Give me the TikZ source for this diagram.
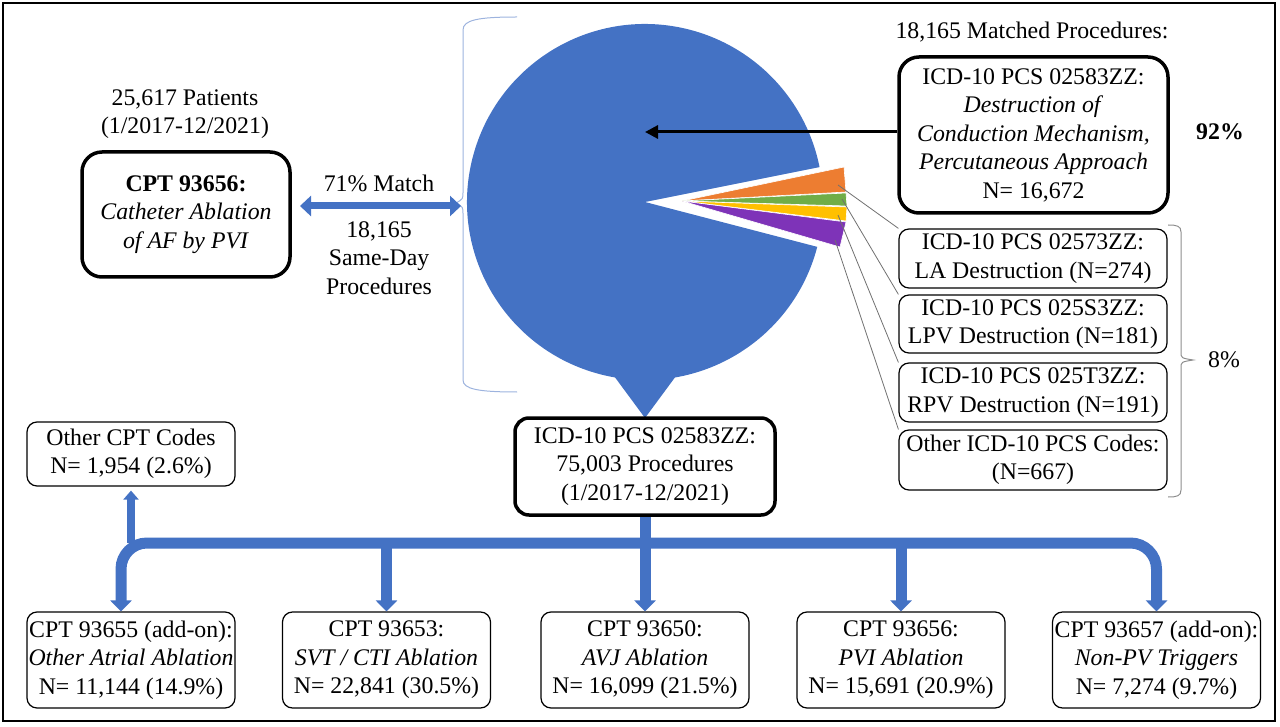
\documentclass[tikz,border=0pt]{standalone}
\usepackage{fontspec}
\setmainfont{Liberation Serif}
\usetikzlibrary{arrows.meta,calc}
\definecolor{pieblue}{HTML}{4472C4}
\definecolor{pieorange}{HTML}{ED7D31}
\definecolor{piegreen}{HTML}{70AD47}
\definecolor{pieyellow}{HTML}{FFC000}
\definecolor{piepurple}{HTML}{7E33B8}
\definecolor{bracecol}{HTML}{9DB3DE}
\definecolor{leadcol}{HTML}{707070}
\newcommand\myfs{\fontsize{23.8}{28.5}\selectfont}
\tikzset{
  txt/.style={font=\myfs, align=center, inner sep=0pt},
  thickbox/.style={draw, line width=3.5pt, rounded corners=20pt, align=center, inner sep=0pt, font=\myfs},
  thinbox/.style={draw, line width=1.2pt, rounded corners=10pt, align=center, inner sep=0pt, font=\myfs},
  bluetip/.style={-{Triangle[length=11pt,width=21pt]}},
  bar/.style={draw=pieblue, line width=11pt},
  leader/.style={draw=leadcol, line width=0.8pt},
}
\begin{document}
\begin{tikzpicture}[x=1pt,y=-1pt]
\useasboundingbox (0,0) rectangle (1280,727);
\draw[line width=2.5pt] (3,3) rectangle (1275,721);

% pie
\fill[pieblue] (645,202) -- ($(645,202)+(14.6:178)$) arc[start angle=14.6, end angle=348.7, radius=178] -- cycle;
\fill[pieblue] (614,376) -- (645,418) -- (676,376) -- cycle;
\begin{scope}[draw=white, line width=0.6pt]
\filldraw[fill=pieorange] (682,201) -- (844,167) -- (846,192) -- cycle;
\filldraw[fill=piegreen] (682,201) -- (846,193) -- (847,206) -- cycle;
\filldraw[fill=pieyellow] (682,201) -- (847,207) -- (846,221) -- cycle;
\filldraw[fill=piepurple] (682,201) -- (846,222) -- (840,247) -- cycle;
\end{scope}
\coordinate (sOrange) at (838,185);
\coordinate (sGreen) at (842,199);
\coordinate (sYellow) at (838,215);
\coordinate (sPurple) at (835,240);
\coordinate (pietip) at (645,132);

% pie brace
\draw[bracecol, line width=1pt] (517,17) .. controls (478,17) and (463,20) .. (463,30) -- (463,192) .. controls (463,199) .. (456,203) .. controls (463,207) .. (463,214) -- (463,380) .. controls (463,389) and (478,392) .. (517,392);

% left
\node[txt] (patients) at (185,114) {25,617 Patients\\(1/2017-12/2021)};
\node[thickbox, minimum width=208pt, minimum height=125pt] (cpt) at (186,214.5)
  {\textbf{CPT 93656:}\\\textit{Catheter Ablation}\\\textit{of AF by PVI}};
\node[txt] (match) at (379,183) {71\% Match};
\node[txt] (sameday) at (379,258) {18,165\\Same-Day\\Procedures};
\coordinate (dl) at (300,206);
\coordinate (dr) at (461,206);
\draw[pieblue, line width=7pt, {Triangle[length=11pt,width=20pt]}-{Triangle[length=11pt,width=20pt]}] (dl) -- (dr);

% right
\node[txt] (matched) at (1032,32) {18,165 Matched Procedures:};
\node[thickbox, minimum width=269pt, minimum height=156pt] (big) at (1033.5,135)
  {ICD-10 PCS 02583ZZ:\\\textit{Destruction of}\\\textit{Conduction Mechanism,}\\\textit{Percutaneous Approach}\\N= 16,672};
\node[txt] (p92) at (1220,132) {\textbf{92\%}};
\draw[line width=3pt, -{Triangle[length=13pt,width=13pt]}] (big.west |- pietip) -- (pietip);

\node[thinbox, minimum width=268pt, minimum height=59pt] (la) at (1033,258.5) {ICD-10 PCS 02573ZZ:\\LA Destruction (N=274)};
\node[thinbox, minimum width=268pt, minimum height=58pt] (lpv) at (1033,324) {ICD-10 PCS 025S3ZZ:\\LPV Destruction (N=181)};
\node[thinbox, minimum width=268pt, minimum height=59pt] (rpv) at (1033,392.5) {ICD-10 PCS 025T3ZZ:\\RPV Destruction (N=191)};
\node[thinbox, minimum width=268pt, minimum height=60pt] (oth) at (1033,460) {Other ICD-10 PCS Codes:\\(N=667)};

\draw[leader] (sOrange) -- (la.north west);
\draw[leader] (sGreen) -- (lpv.north west);
\draw[leader] (sYellow) -- (rpv.north west);
\draw[leader] (sPurple) -- (oth.north west);

\draw[leadcol!80, line width=1pt] (1168,225) .. controls (1177,225) and (1181,226) .. (1181,232) -- (1181,352) .. controls (1181,358) .. (1193,360) .. controls (1181,362) .. (1181,368) -- (1181,490) .. controls (1181,496) and (1177,497) .. (1168,497);
\node[txt] (p8) at (1224,360) {8\%};

% bottom
\node[thickbox, rounded corners=14pt, minimum width=260pt, minimum height=97pt] (center) at (645,466.5)
  {ICD-10 PCS 02583ZZ:\\75,003 Procedures\\(1/2017-12/2021)};
\node[thinbox, minimum width=208pt, minimum height=64pt] (ocpt) at (131,454) {Other CPT Codes\\N= 1,954 (2.6\%)};

\node[thinbox, minimum width=208pt, minimum height=96pt] (b1) at (131,660) {CPT 93655 (add-on):\\\textit{Other Atrial Ablation}\\N= 11,144 (14.9\%)};
\node[thinbox, minimum width=208pt, minimum height=96pt] (b2) at (386.5,660) {CPT 93653:\\\textit{SVT / CTI Ablation}\\N= 22,841 (30.5\%)};
\node[thinbox, minimum width=208pt, minimum height=96pt] (b3) at (645,660) {CPT 93650:\\\textit{AVJ Ablation}\\N= 16,099 (21.5\%)};
\node[thinbox, minimum width=208pt, minimum height=96pt] (b4) at (901,660) {CPT 93656:\\\textit{PVI Ablation}\\N= 15,691 (20.9\%)};
\node[thinbox, minimum width=208pt, minimum height=96pt] (b5) at (1156.5,660) {CPT 93657 (add-on):\\\textit{Non-PV Triggers}\\N= 7,274 (9.7\%)};

\coordinate (hubL) at (131,543);
\coordinate (hubB2) at (386.5,543);
\coordinate (hubB4) at (901,543);
\coordinate (b1in) at ($(b1.north)+(-10,0)$);
\draw[bar, rounded corners=26pt, {Triangle[length=11pt,width=21pt]}-{Triangle[length=11pt,width=21pt]}]
  (b1in) -- (b1in |- hubL) -- (b5.north |- hubL) -- (b5.north);
\draw[bar, bluetip] (center.south) -- (b3.north);
\draw[bar, bluetip] (hubB2) -- (b2.north);
\draw[bar, bluetip] (hubB4) -- (b4.north);
\draw[draw=pieblue, line width=8pt, -{Triangle[length=9pt,width=15pt]}] (hubL) -- ($(ocpt.south)+(0,4)$);
\end{tikzpicture}
\end{document}
